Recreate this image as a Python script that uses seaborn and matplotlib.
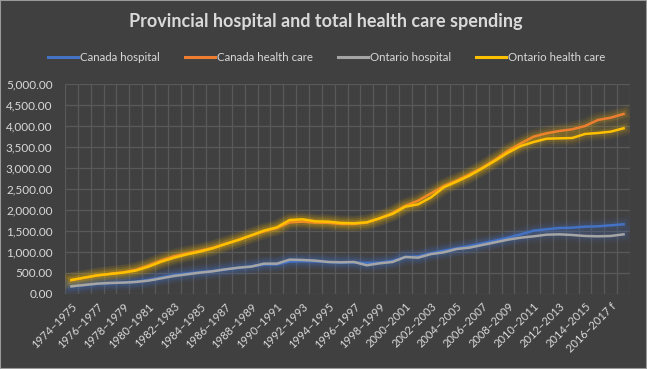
# Provincial hospital and total health care spending

import pandas as pd
import matplotlib.pyplot as plt
import seaborn as sns
from matplotlib import patheffects as pe
from matplotlib.ticker import FuncFormatter, MultipleLocator
from matplotlib.patches import Rectangle


# data
years = [f"{y}\u2013{y + 1}" + (" f" if y >= 2015 else "") for y in range(1974, 2018)]

canada_hospital = [183, 212, 240, 258, 272, 292, 330, 395, 450, 490, 520, 545, 585, 620,
                   660, 700, 705, 770, 780, 775, 760, 745, 750, 740, 745, 790, 880, 896,
                   968, 1032, 1087, 1143, 1206, 1270, 1341, 1420, 1508, 1540, 1571, 1579,
                   1603, 1611, 1635, 1659]
canada_health = [330, 385, 440, 480, 515, 575, 680, 800, 900, 970, 1030, 1100, 1195, 1290,
                 1390, 1490, 1570, 1706, 1722, 1699, 1695, 1667, 1667, 1699, 1800, 1929,
                 2099, 2222, 2397, 2571, 2700, 2850, 3008, 3198, 3412, 3587, 3746, 3825,
                 3881, 3921, 4000, 4143, 4198, 4286]
ontario_hospital = [183, 214, 246, 262, 270, 286, 318, 373, 429, 468, 508, 540, 587, 627,
                    651, 722, 722, 818, 810, 794, 762, 754, 762, 683, 730, 762, 881, 865,
                    950, 992, 1071, 1103, 1167, 1230, 1294, 1341, 1373, 1412, 1420, 1405,
                    1381, 1373, 1381, 1420]
ontario_health = [333, 389, 444, 476, 508, 556, 651, 770, 865, 944, 1008, 1087, 1190, 1286,
                  1397, 1508, 1587, 1762, 1778, 1730, 1722, 1691, 1683, 1706, 1802, 1905,
                  2079, 2135, 2300, 2540, 2675, 2818, 2992, 3175, 3365, 3524, 3619, 3698,
                  3706, 3714, 3810, 3833, 3865, 3945]

series = ['Canada hospital', 'Canada health care', 'Ontario hospital', 'Ontario health care']
colors = ['#4472C4', '#ED7D31', '#A5A5A5', '#FFC000']

df = pd.DataFrame({
    'idx': list(range(len(years))) * 4,
    'value': canada_hospital + canada_health + ontario_hospital + ontario_health,
    'series': [s for s in series for _ in years],
})

bg = '#404040'
txt = '#D9D9D9'
plt.rcParams['font.family'] = ['Lato', 'DejaVu Sans']

fig = plt.figure(figsize=(6.47, 3.69), dpi=100, facecolor=bg)
ax = fig.add_axes([0.1005, 0.2033, 0.8732, 0.5691], facecolor=bg)

sns.lineplot(data=df, x='idx', y='value', hue='series', hue_order=series,
             palette=colors, linewidth=1.8, ax=ax, legend=True)

# soft glow round each line
glow = {'#4472C4': '#4472C4', '#ED7D31': '#FFC000', '#A5A5A5': '#4472C4', '#FFC000': '#FFC000'}
for line, c in zip(ax.lines, colors):
    line.set_path_effects([
        pe.Stroke(linewidth=11, foreground=glow[c], alpha=0.06),
        pe.Stroke(linewidth=8, foreground=glow[c], alpha=0.08),
        pe.Stroke(linewidth=5, foreground=glow[c], alpha=0.12),
        pe.Normal(),
    ])

ax.set_xlim(-0.5, len(years) - 0.5)
ax.set_ylim(0, 5000)
ax.yaxis.set_major_locator(MultipleLocator(500))
ax.yaxis.set_major_formatter(FuncFormatter(lambda v, p: f"{v:,.2f}"))
ax.set_xticks(range(0, len(years), 2))
ax.set_xticklabels(years[::2], rotation=45, ha='right', rotation_mode='anchor')
ax.set_xticks([i - 0.5 for i in range(len(years) + 1)], minor=True)

ax.grid(axis='y', which='major', color='#595959', linewidth=0.9)
ax.grid(axis='x', which='minor', color='#595959', linewidth=0.9)
ax.set_axisbelow(True)
ax.tick_params(axis='both', which='both', length=0, colors=txt)
ax.tick_params(axis='y', pad=9, labelsize=8.5)
ax.tick_params(axis='x', pad=5, labelsize=8)
for s in ax.spines.values():
    s.set_visible(False)
ax.set_xlabel('')
ax.set_ylabel('')

ax.legend_.remove()
handles = [plt.Line2D([], [], color=c, linewidth=2.2) for c in colors]
fig.legend(handles, series, loc='center', bbox_to_anchor=(0.505, 0.845), ncol=4,
           frameon=False, fontsize=8.3, labelcolor=txt, handlelength=2.6,
           handletextpad=0.15, columnspacing=2.2)

fig.text(0.503, 0.943, 'Provincial hospital and total health care spending',
         ha='center', va='center', fontsize=13, fontweight='bold', color=txt)

fig.patches.append(Rectangle((0, 0), 1, 1, transform=fig.transFigure, fill=False,
                             edgecolor='#9a9a9a', linewidth=1.5))

fig.savefig('out.png', dpi=100, facecolor=bg)
